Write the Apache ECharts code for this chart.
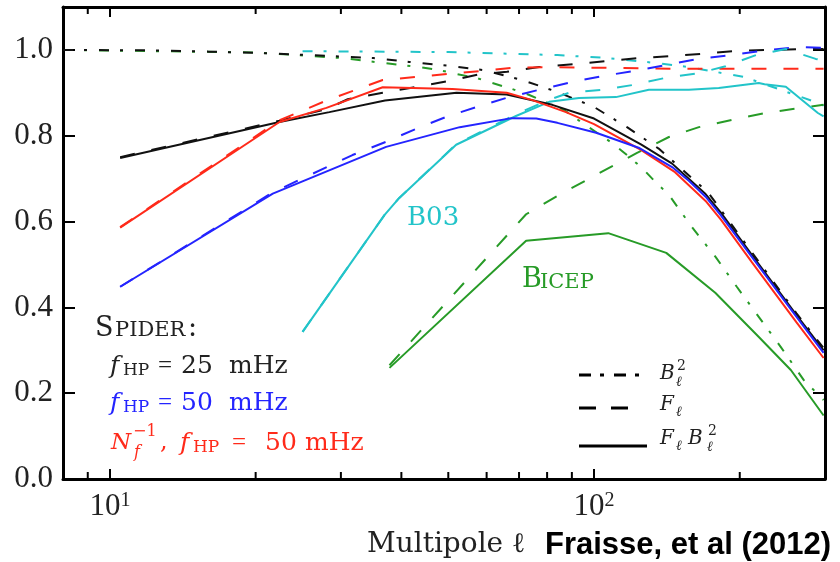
<!DOCTYPE html>
<html>
<head>
<meta charset="utf-8">
<script src="https://cdn.jsdelivr.net/npm/echarts@6/dist/echarts.min.js"></script>
<style>
  html, body { margin: 0; padding: 0; background: #fff; }
  #chart { width: 840px; height: 562px; }
</style>
</head>
<body>
<div id="chart"></div>
<script>
// multipole ell vs transfer value
// SPIDER f_HP = 25 mHz (black)
const spider25Beam = [[8, 1.0], [12, 0.999], [16, 0.996], [20, 0.993], [26, 0.988], [35, 0.981], [41.5, 0.972], [50, 0.963], [59, 0.953], [71, 0.93], [84, 0.902], [100, 0.867], [117, 0.82], [136, 0.77], [155, 0.713], [172, 0.668], [212, 0.528], [262, 0.386], [298, 0.305]];
const spider25F = [[10.5, 0.75], [22.4, 0.835], [28, 0.862], [31, 0.885], [36.6, 0.9], [42, 0.912], [49.8, 0.927], [57.4, 0.942], [66.1, 0.949], [77, 0.96], [91.8, 0.967], [106, 0.974], [124, 0.981], [146, 0.986], [167, 0.991], [199, 0.998], [233, 1.0], [277, 1.002], [298, 1.002]];
const spider25FB = [[10.5, 0.748], [22.4, 0.832], [28.4, 0.855], [37, 0.882], [52, 0.9], [66, 0.896], [82, 0.872], [100, 0.84], [125, 0.78], [145, 0.735], [170, 0.664], [183, 0.62], [212, 0.522], [262, 0.382], [298, 0.3]];
// SPIDER f_HP = 50 mHz (blue)
const spider50F = [[10.5, 0.448], [21.7, 0.668], [31.7, 0.755], [37.2, 0.786], [42.9, 0.816], [49.5, 0.844], [57.2, 0.867], [65.8, 0.888], [77, 0.907], [90, 0.925], [104, 0.939], [121, 0.951], [141, 0.965], [164, 0.979], [192, 0.988], [222, 0.998], [264, 1.007], [298, 1.005]];
const spider50FB = [[10.5, 0.448], [21.7, 0.665], [37.2, 0.774], [52.8, 0.82], [67.6, 0.841], [76, 0.84], [84, 0.83], [101, 0.807], [123.6, 0.772], [145, 0.727], [157, 0.695], [170, 0.658], [183, 0.614], [212, 0.517], [262, 0.378], [298, 0.294]];
// SPIDER N_f^-1, f_HP = 50 mHz (red)
const spiderNfF = [[10.5, 0.587], [22.4, 0.836], [28, 0.882], [36.6, 0.93], [43, 0.937], [49.8, 0.944], [58.8, 0.951], [67.7, 0.958], [79.6, 0.96], [109, 0.958], [147, 0.956], [298, 0.956]];
const spiderNfFB = [[10.5, 0.586], [22.4, 0.832], [28, 0.865], [36.6, 0.913], [51, 0.909], [66, 0.9], [74.6, 0.883], [87.5, 0.855], [100, 0.827], [125, 0.767], [147, 0.715], [170, 0.648], [183, 0.604], [212, 0.505], [262, 0.365], [298, 0.282]];
// B03 (cyan)
const b03Beam = [[25, 0.997], [50, 0.995], [84, 0.988], [107, 0.981], [128, 0.972], [157, 0.96], [204, 0.937], [286, 0.879], [298, 0.87]];
const b03F = [[25, 0.343], [36.9, 0.615], [39.6, 0.655], [51.9, 0.78], [69, 0.85], [80.8, 0.884], [88.8, 0.9], [104, 0.907], [119.8, 0.918], [140.7, 0.935], [164.7, 0.946], [187, 0.962], [216, 0.988], [249, 1.002], [287, 0.979], [298, 0.975]];
const b03FB = [[25, 0.343], [36.9, 0.615], [39.6, 0.655], [51.9, 0.779], [69, 0.846], [80.8, 0.879], [93.1, 0.888], [111, 0.89], [129.8, 0.907], [157, 0.907], [181, 0.911], [219, 0.923], [225, 0.92], [249, 0.914], [290, 0.853], [298, 0.845]];
// BICEP (green)
const bicepBeam = [[8, 1.0], [20, 0.994], [30.2, 0.981], [36.4, 0.97], [43.6, 0.96], [47.9, 0.953], [51.9, 0.944], [57.1, 0.935], [61.6, 0.923], [67.7, 0.909], [73.5, 0.895], [86.7, 0.86], [94, 0.832], [109, 0.783], [117, 0.755], [125.6, 0.725], [134, 0.692], [142.8, 0.662], [159.3, 0.587], [178.4, 0.517], [197.2, 0.448], [218.9, 0.378], [243, 0.308], [271, 0.231], [298, 0.184]];
const bicepF = [[37.8, 0.265], [72.4, 0.617], [84.7, 0.662], [107.4, 0.725], [122.7, 0.76], [142.8, 0.797], [164.7, 0.82], [192.6, 0.837], [226, 0.853], [268.5, 0.865], [298, 0.872]];
const bicepFB = [[37.8, 0.259], [72.4, 0.555], [107, 0.573], [141, 0.527], [178, 0.434], [219, 0.331], [255, 0.254], [298, 0.148]];

const minorTicks = [9, 20, 30, 40, 50, 60, 70, 80, 90, 200];
const yTicks = [0, 0.2, 0.4, 0.6, 0.8, 1.0];

const colors = { black: '#111111', blue: '#2424ff', red: '#ff2a1a', cyan: '#22c4c9', green: '#279b27' };
const dashDot = [10, 11, 3, 12];
const dashed = [15, 17];

const serif = "'DejaVu Serif', serif";
const tickFont = "'Liberation Serif', serif";

const chart = echarts.init(document.getElementById('chart'));

function curve(data, color, type, z) {
  return {
    type: 'line',
    data: data,
    showSymbol: false,
    symbol: 'none',
    z: z,
    lineStyle: { color: color, width: 2, type: type },
    animation: false
  };
}

function txt(x, y, text, size, color, style, family) {
  return {
    type: 'text', x: x, y: y,
    style: {
      text: text, fill: color, fontSize: size,
      fontFamily: family || serif, fontStyle: style || 'normal',
      verticalAlign: 'middle', align: 'left'
    }
  };
}

function sample(y, x2, dash) {
  return {
    type: 'line',
    shape: { x1: 579, y1: y, x2: x2, y2: y },
    style: { stroke: '#000', lineWidth: 3, lineDash: dash }
  };
}

const xLabel = v => {
  if (Math.abs(v - 10) < 1e-6) return '{b|10}{s|1}';
  if (Math.abs(v - 100) < 1e-4) return '{b|10}{s|2}';
  return '';
};

function frameLine() {
  return { show: true, onZero: false, lineStyle: { color: '#000', width: 3 } };
}
function ticks(len) {
  return { show: true, inside: true, length: len, lineStyle: { color: '#000', width: 2 } };
}

function xAxis(position, label) {
  return {
    type: 'log', min: 8, max: 300, position: position,
    axisLine: frameLine(), axisTick: ticks(10),
    splitLine: { show: false },
    axisLabel: label
  };
}
function yAxis(position, label) {
  return {
    type: 'value', min: 0, max: 1.1, interval: 0.2, position: position,
    axisLine: frameLine(), axisTick: ticks(12),
    splitLine: { show: false },
    axisLabel: label
  };
}

const graphics = [
  // SPIDER legend
  txt(95, 329, 'S', 27, '#222'),
  txt(115, 331, 'PIDER', 21, '#222'),
  txt(188, 329, ':', 27, '#222'),
  txt(110, 366, 'f', 25, '#222', 'italic'),
  txt(123, 371, 'HP', 17, '#222'),
  txt(158, 366, '=', 25, '#222', 'normal', tickFont),
  txt(181, 366, '25', 25, '#222'),
  txt(229, 366, 'mHz', 25, '#222'),
  txt(110, 403, 'f', 25, colors.blue, 'italic'),
  txt(123, 408, 'HP', 17, colors.blue),
  txt(158, 403, '=', 25, colors.blue, 'normal', tickFont),
  txt(181, 403, '50', 25, colors.blue),
  txt(229, 403, 'mHz', 25, colors.blue),
  txt(111, 443, 'N', 23, colors.red, 'italic'),
  txt(133, 432, '\u22121', 16, colors.red),
  txt(134, 453, 'f', 16, colors.red, 'italic'),
  txt(160, 443, ',', 24, colors.red),
  txt(180, 443, 'f', 25, colors.red, 'italic'),
  txt(193, 448, 'HP', 17, colors.red),
  txt(232, 443, '=', 25, colors.red, 'normal', tickFont),
  txt(265, 443, '50', 25, colors.red),
  txt(305, 443, 'mHz', 25, colors.red),
  // line style legend
  sample(375, 643, [12, 9, 4, 10]),
  sample(408, 631, [17, 15]),
  sample(446, 647, null),
  txt(660, 374, 'B', 20, '#222', 'italic'),
  txt(677, 366, '2', 14, '#222'),
  txt(676, 382, '\u2113', 14, '#222', 'italic'),
  txt(660, 405, 'F', 20, '#222', 'italic'),
  txt(676, 412, '\u2113', 14, '#222', 'italic'),
  txt(660, 439, 'F', 20, '#222', 'italic'),
  txt(676, 446, '\u2113', 14, '#222', 'italic'),
  txt(688, 439, 'B', 20, '#222', 'italic'),
  txt(708, 431, '2', 14, '#222'),
  txt(707, 447, '\u2113', 14, '#222', 'italic'),
  // experiment labels
  txt(407, 218, 'B03', 26, colors.cyan),
  txt(522, 280, 'B', 27, colors.green),
  txt(540, 282.5, 'ICEP', 21, colors.green),
  // axis title + citation
  txt(367, 545, 'Multipole \u2113', 28, '#222'),
  {
    type: 'text', x: 545, y: 545,
    style: { text: 'Fraisse, et al (2012)', fill: '#000', fontSize: 31, fontWeight: 'bold',
      fontFamily: "'Liberation Sans', Arial, sans-serif", verticalAlign: 'middle', align: 'left' }
  }
];

const option = {
  backgroundColor: '#fff',
  animation: false,
  grid: { left: 63, right: 15, top: 7, bottom: 83 },
  xAxis: [
    xAxis('bottom', {
      formatter: xLabel, margin: 12,
      rich: {
        b: { fontFamily: tickFont, fontSize: 31, color: '#222' },
        s: { fontFamily: tickFont, fontSize: 20, color: '#222', verticalAlign: 'top' }
      }
    }),
    xAxis('top', { show: false })
  ],
  yAxis: [
    yAxis('left', {
      formatter: v => yTicks.some(t => Math.abs(t - v) < 1e-6) ? v.toFixed(1) : '',
      margin: 10, fontFamily: tickFont, fontSize: 31, color: '#222'
    }),
    yAxis('right', { show: false })
  ],
  series: [
    curve(bicepBeam, colors.green, dashDot, 2),
    curve(spider25Beam, colors.black, dashDot, 2),
    curve(b03Beam, colors.cyan, dashDot, 2),
    curve(spider25F, colors.black, dashed, 3),
    curve(spiderNfF, colors.red, dashed, 3),
    curve(spider50F, colors.blue, dashed, 3),
    curve(b03F, colors.cyan, dashed, 3),
    curve(bicepF, colors.green, dashed, 3),
    curve(bicepFB, colors.green, 'solid', 4),
    curve(b03FB, colors.cyan, 'solid', 4),
    curve(spider25FB, colors.black, 'solid', 4),
    curve(spiderNfFB, colors.red, 'solid', 4),
    curve(spider50FB, colors.blue, 'solid', 4)
  ]
};

chart.setOption(option);

// minor log ticks on bottom and top frame, placed through the axis scale
const minorEls = [];
minorTicks.forEach(v => {
  const b = chart.convertToPixel({ xAxisIndex: 0, yAxisIndex: 0 }, [v, 0]);
  const t = chart.convertToPixel({ xAxisIndex: 0, yAxisIndex: 0 }, [v, 1.1]);
  const st = { stroke: '#000', lineWidth: 2 };
  minorEls.push({ type: 'line', z: 100, shape: { x1: b[0], y1: b[1], x2: b[0], y2: b[1] - 7 }, style: st });
  minorEls.push({ type: 'line', z: 100, shape: { x1: t[0], y1: t[1], x2: t[0], y2: t[1] + 7 }, style: st });
});
chart.setOption({ graphic: graphics.concat(minorEls) });

window.addEventListener('resize', () => chart.resize());
</script>
</body>
</html>
